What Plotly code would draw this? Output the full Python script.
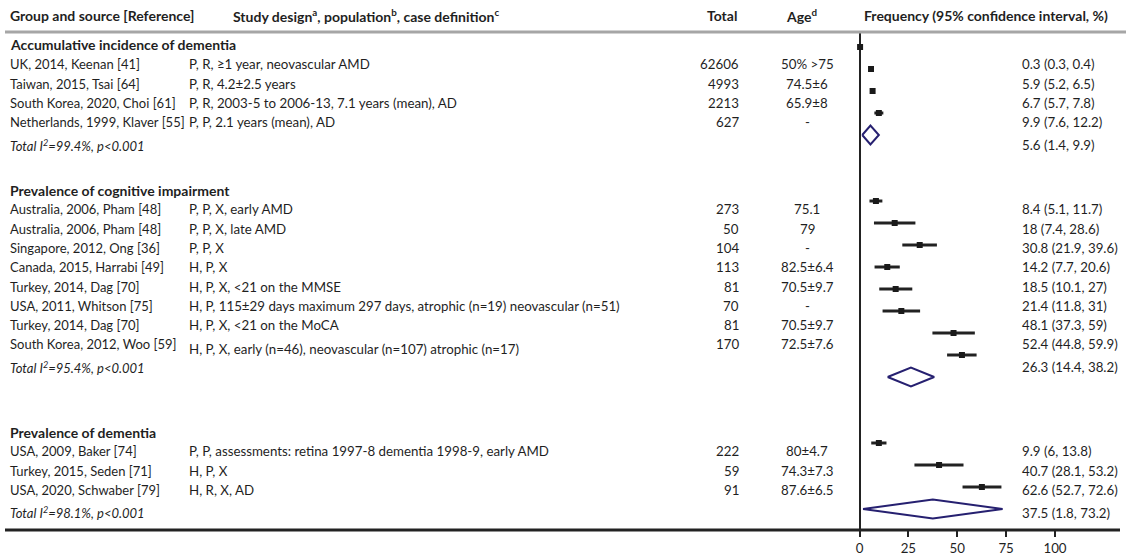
import plotly.graph_objects as go

# ---------------- data ----------------
group_titles = ["Accumulative incidence of dementia",
                "Prevalence of cognitive impairment",
                "Prevalence of dementia"]

sources_1 = ["UK, 2014, Keenan [41]", "Taiwan, 2015, Tsai [64]",
             "South Korea, 2020, Choi [61]", "Netherlands, 1999, Klaver [55]"]
designs_1 = ["P, R, ≥1 year, neovascular AMD", "P, R, 4.2±2.5 years",
             "P, R, 2003-5 to 2006-13, 7.1 years (mean), AD", "P, P, 2.1 years (mean), AD"]
totals_1 = [62606, 4993, 2213, 627]
ages_1 = ["50% >75", "74.5±6", "65.9±8", "-"]
est_1 = [0.3, 5.9, 6.7, 9.9]
lo_1 = [0.3, 5.2, 5.7, 7.6]
hi_1 = [0.4, 6.5, 7.8, 12.2]
pooled_1 = [5.6, 1.4, 9.9]
het_1 = "Total I<sup>2</sup>=99.4%, p<0.001"

sources_2 = ["Australia, 2006, Pham [48]", "Australia, 2006, Pham [48]",
             "Singapore, 2012, Ong [36]", "Canada, 2015, Harrabi [49]",
             "Turkey, 2014, Dag [70]", "USA, 2011, Whitson [75]",
             "Turkey, 2014, Dag [70]", "South Korea, 2012, Woo [59]"]
designs_2 = ["P, P, X, early AMD", "P, P, X, late AMD", "P, P, X", "H, P, X",
             "H, P, X, <21 on the MMSE",
             "H, P, 115±29 days maximum 297 days, atrophic (n=19) neovascular (n=51)",
             "H, P, X, <21 on the MoCA",
             "H, P, X, early (n=46), neovascular (n=107) atrophic (n=17)"]
totals_2 = [273, 50, 104, 113, 81, 70, 81, 170]
ages_2 = ["75.1", "79", "-", "82.5±6.4", "70.5±9.7", "-", "70.5±9.7", "72.5±7.6"]
est_2 = [8.4, 18, 30.8, 14.2, 18.5, 21.4, 48.1, 52.4]
lo_2 = [5.1, 7.4, 21.9, 7.7, 10.1, 11.8, 37.3, 44.8]
hi_2 = [11.7, 28.6, 39.6, 20.6, 27, 31, 59, 59.9]
pooled_2 = [26.3, 14.4, 38.2]
het_2 = "Total I<sup>2</sup>=95.4%, p<0.001"

sources_3 = ["USA, 2009, Baker [74]", "Turkey, 2015, Seden [71]", "USA, 2020, Schwaber [79]"]
designs_3 = ["P, P, assessments: retina 1997-8 dementia 1998-9, early AMD", "H, P, X", "H, R, X, AD"]
totals_3 = [222, 59, 91]
ages_3 = ["80±4.7", "74.3±7.3", "87.6±6.5"]
est_3 = [9.9, 40.7, 62.6]
lo_3 = [6, 28.1, 52.7]
hi_3 = [13.8, 53.2, 72.6]
pooled_3 = [37.5, 1.8, 73.2]
het_3 = "Total I<sup>2</sup>=98.1%, p<0.001"

tick_vals = [0, 25, 50, 75, 100]

headers = ["Group and source [Reference]",
           "Study design<sup>a</sup>, population<sup>b</sup>, case definition<sup>c</sup>",
           "Total", "Age<sup>d</sup>", "Frequency (95% confidence interval, %)"]

groups = [
    dict(src=sources_1, des=designs_1, tot=totals_1, age=ages_1, est=est_1, lo=lo_1, hi=hi_1, pool=pooled_1, het=het_1),
    dict(src=sources_2, des=designs_2, tot=totals_2, age=ages_2, est=est_2, lo=lo_2, hi=hi_2, pool=pooled_2, het=het_2),
    dict(src=sources_3, des=designs_3, tot=totals_3, age=ages_3, est=est_3, lo=lo_3, hi=hi_3, pool=pooled_3, het=het_3),
]

# ---------------- layout constants (pixels) ----------------
W, H = 1126, 556
FONT = "Lato"
TXT = "#1f1f1f"
NAVY = "#262070"
FS = 13.3
FS_SRC = 13
FS_B = 14

X_SRC, X_DES, X_TOT, X_AGE, X_VAL = 9, 188, 740, 807, 1021
HDR_X = [(9, "left"), (232, "left"), (722, "center"), (801, "center"), (863, "left")]
HDR_Y = 15
LINE_TOP = 32
AXIS_Y = 530
SEC_Y = [45, 190, 432]
ROW_STEP = 19.3
TOTAL_GAP = 23

# forest axis mapping: value 0 at px 859.5, 1.955 px per unit
PX0, PPU = 859.5, 1.955
XL, XR = 840, 1121
# marker rows: row 0 at px 47, 22 px per row
ROW0, RSTEP = 47, 22


def fmt(v):
    return f"{v:g}"


def py(p):  # pixel y -> paper
    return 1 - p / H


def px(p):  # pixel x -> paper
    return p / W


fig = go.Figure()
ann = []


def text(x, y, s, anchor="left", bold=False, italic=False, yshift=0, size=FS):
    if bold:
        s = f"<b>{s}</b>"
    if italic:
        s = f"<i>{s}</i>"
    ann.append(dict(x=px(x), y=py(y), xref="paper", yref="paper", text=s, showarrow=False,
                    xanchor=anchor, yanchor="middle", yshift=yshift, borderpad=0,
                    font=dict(family=FONT, size=size, color=TXT)))


# headers
for (hx, ha), h in zip(HDR_X, headers):
    text(hx, HDR_Y, h, anchor=ha, bold=True, size=FS_B)

row = 0
for gi, g in enumerate(groups):
    y0 = SEC_Y[gi]
    text(X_SRC, y0, group_titles[gi], bold=True, size=FS_B)
    n = len(g["src"])
    rows = list(range(row, row + n))
    for k in range(n):
        yy = y0 + ROW_STEP * (k + 1)
        text(X_SRC, yy, g["src"][k], size=FS_SRC)
        shift = -5 if (gi == 1 and k == n - 1) else 0
        text(X_DES, yy, g["des"][k], yshift=shift)
        text(X_TOT, yy, str(g["tot"][k]), anchor="right")
        text(X_AGE, yy, g["age"][k], anchor="center")
        text(X_VAL, yy, f"{fmt(g['est'][k])} ({fmt(g['lo'][k])}, {fmt(g['hi'][k])})")
    yt = y0 + ROW_STEP * n + TOTAL_GAP
    text(X_SRC, yt, g["het"], italic=True, size=FS_SRC)
    pe, pl, ph = g["pool"]
    text(X_VAL, yt, f"{fmt(pe)} ({fmt(pl)}, {fmt(ph)})")

    # study markers with CIs
    fig.add_trace(go.Scatter(
        x=g["est"], y=rows, mode="markers",
        marker=dict(symbol="square", size=6, color="#1a1a1a"),
        error_x=dict(type="data", symmetric=False,
                     array=[h - e for h, e in zip(g["hi"], g["est"])],
                     arrayminus=[e - l for e, l in zip(g["est"], g["lo"])],
                     width=0, thickness=3, color="#222222"),
        xaxis="x", yaxis="y", showlegend=False, hoverinfo="skip"))
    # pooled diamond
    r = row + n
    hd = 0.43
    fig.add_trace(go.Scatter(
        x=[pl, pe, ph, pe, pl], y=[r, r - hd, r, r + hd, r], mode="lines",
        line=dict(color=NAVY, width=2), xaxis="x", yaxis="y",
        showlegend=False, hoverinfo="skip"))
    row = r + 1 + 2

shapes = [
    dict(type="line", xref="paper", yref="paper", x0=px(5), x1=1, y0=py(LINE_TOP), y1=py(LINE_TOP),
         line=dict(color="#a6a6a6", width=3)),
    dict(type="line", xref="paper", yref="paper", x0=px(5), x1=px(1120), y0=py(AXIS_Y), y1=py(AXIS_Y),
         line=dict(color="#222222", width=3)),
]

fig.update_layout(
    width=W, height=H, margin=dict(l=0, r=0, t=0, b=0),
    paper_bgcolor="white", plot_bgcolor="rgba(0,0,0,0)",
    annotations=ann, shapes=shapes,
    xaxis=dict(domain=[px(XL), px(XR)],
               range=[(XL - PX0) / PPU, (XR - PX0) / PPU],
               tickvals=tick_vals, ticktext=[str(t) for t in tick_vals],
               ticks="outside", ticklen=6, tickwidth=1.5, tickcolor="#222222",
               showgrid=False, zeroline=True, zerolinecolor="#222222", zerolinewidth=2,
               showline=False, tickfont=dict(family=FONT, size=FS, color=TXT),
               fixedrange=True),
    yaxis=dict(domain=[py(AXIS_Y), py(LINE_TOP)],
               range=[(AXIS_Y - ROW0) / RSTEP, (LINE_TOP - ROW0) / RSTEP],
               showgrid=False, zeroline=False, showticklabels=False, ticks="",
               showline=False, fixedrange=True),
    font=dict(family=FONT, size=FS, color=TXT),
)

fig.write_html("out.html", config={"displayModeBar": False},
               post_script="document.body.style.margin='0';document.body.style.overflow='hidden';")
